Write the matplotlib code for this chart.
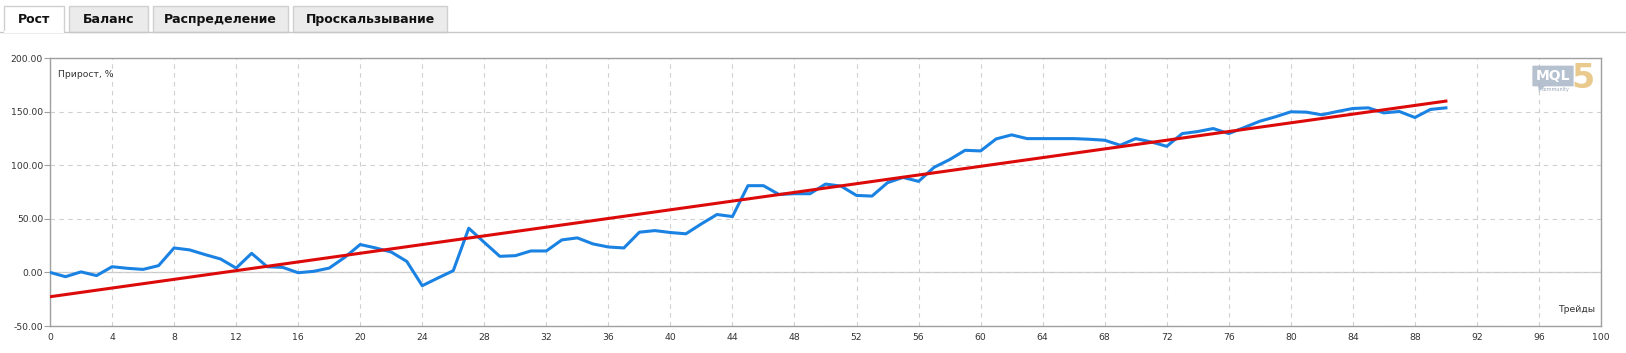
import matplotlib
matplotlib.use("Agg")
import matplotlib.pyplot as plt
from matplotlib.patches import Rectangle, FancyBboxPatch, Polygon
from matplotlib.lines import Line2D

# growth curve, % per trade number
trades = list(range(0, 91))
growth = [
    0.0, -4.0, 0.5, -3.0, 5.3, 3.8, 2.8, 6.3, 22.8, 21.0,
    16.6, 12.5, 4.0, 17.8, 5.3, 4.7, -0.3, 1.0, 4.0, 14.0,
    26.0, 22.8, 19.0, 10.3, -12.4, -5.3, 1.6, 41.2, 28.0, 15.0,
    15.6, 20.0, 20.0, 30.3, 32.2, 26.6, 23.7, 22.8, 37.5, 39.0,
    37.2, 36.0, 45.3, 54.0, 52.1, 80.9, 80.9, 72.7, 73.4, 73.4,
    82.4, 80.5, 71.8, 71.2, 83.7, 88.6, 84.9, 98.0, 105.2, 113.9,
    113.3, 124.5, 128.3, 124.8, 124.8, 124.8, 124.8, 124.2, 123.3, 118.6,
    124.8, 121.7, 117.6, 129.5, 131.4, 134.2, 129.5, 135.2, 141.0, 145.1,
    149.8, 149.5, 147.0, 150.1, 152.9, 153.5, 148.8, 150.1, 144.5, 152.0,
    153.5,
]
trend_x = [0, 90]
trend_y = [-22.7, 159.8]

tabs = ["Рост", "Баланс", "Распределение", "Проскальзывание"]
tab_left = [4, 69, 153, 293]
tab_right = [64, 148, 288, 447]

x_ticks = list(range(0, 101, 4))
y_ticks = [-50, 0, 50, 100, 150, 200]

W, H = 1626, 353
fig = plt.figure(figsize=(W / 100, H / 100), dpi=100)
fig.patch.set_facecolor("white")


def fx(px):
    return px / W


def fy(py):
    return 1 - py / H


# tabs row
fig.add_artist(Line2D([0, 1], [fy(32), fy(32)], color="#c8c8c8", lw=1))
for i, (name, l, r) in enumerate(zip(tabs, tab_left, tab_right)):
    face = "white" if i == 0 else "#ebebeb"
    fig.add_artist(Rectangle((fx(l), fy(32)), fx(r - l), fy(6) - fy(32),
                             facecolor=face, edgecolor="#d0d0d0", lw=1))
    if i == 0:
        fig.add_artist(Line2D([fx(l + 1), fx(r - 1)], [fy(32), fy(32)], color="white", lw=1.5))
    fig.text(fx((l + r) / 2), fy(19.5), name, ha="center", va="center",
             fontsize=9, fontweight="bold", color="#111111")

ax = fig.add_axes([fx(50), fy(326), fx(1601 - 50), fy(58) - fy(326)])
ax.plot(trades, growth, color="#1a82e2", lw=2.2, solid_joinstyle="round", zorder=3)
ax.plot(trend_x, trend_y, color="#dd0a0a", lw=2.2, zorder=4)

ax.set_xlim(0, 100)
ax.set_ylim(-50, 200)
ax.set_xticks(x_ticks)
ax.set_yticks(y_ticks)
ax.set_yticklabels([f"{v:.2f}" for v in y_ticks])
ax.grid(True, color="#d0d0d0", ls=(0, (4, 4)), lw=0.8)
ax.axhline(0, color="#c8c8c8", lw=0.9, zorder=1)
for s in ax.spines.values():
    s.set_color("#a0a0a0")
    s.set_linewidth(1)
ax.tick_params(axis="y", length=4, color="#a0a0a0", labelsize=6.7, labelcolor="#333333", pad=1)
ax.tick_params(axis="x", length=0, labelsize=6.7, labelcolor="#333333", pad=5)

ax.text(0.005, 0.955, "Прирост, %", transform=ax.transAxes, fontsize=6.7,
        color="#333333", ha="left", va="top")
ax.text(0.996, 0.045, "Трейды", transform=ax.transAxes, fontsize=6.7,
        color="#333333", ha="right", va="bottom")

# MQL5 watermark
fig.add_artist(FancyBboxPatch((fx(1534), fy(86)), fx(38), fy(66) - fy(86),
                              boxstyle="round,pad=0.001", facecolor="#aab6c8",
                              edgecolor="none", alpha=0.85))
fig.add_artist(Polygon([(fx(1538), fy(86)), (fx(1545), fy(86)), (fx(1539), fy(92))],
                       closed=True, facecolor="#aab6c8", edgecolor="none", alpha=0.85))
fig.text(fx(1553), fy(76.5), "MQL", ha="center", va="center", fontsize=10,
         fontweight="bold", color="white")
fig.text(fx(1556), fy(90), "community", ha="center", va="center", fontsize=3.5,
         color="#9aa6b8")
fig.text(fx(1583), fy(78), "5", ha="center", va="center", fontsize=24,
         fontweight="bold", color="#e9c98c")

fig.savefig("out.png", dpi=100)
